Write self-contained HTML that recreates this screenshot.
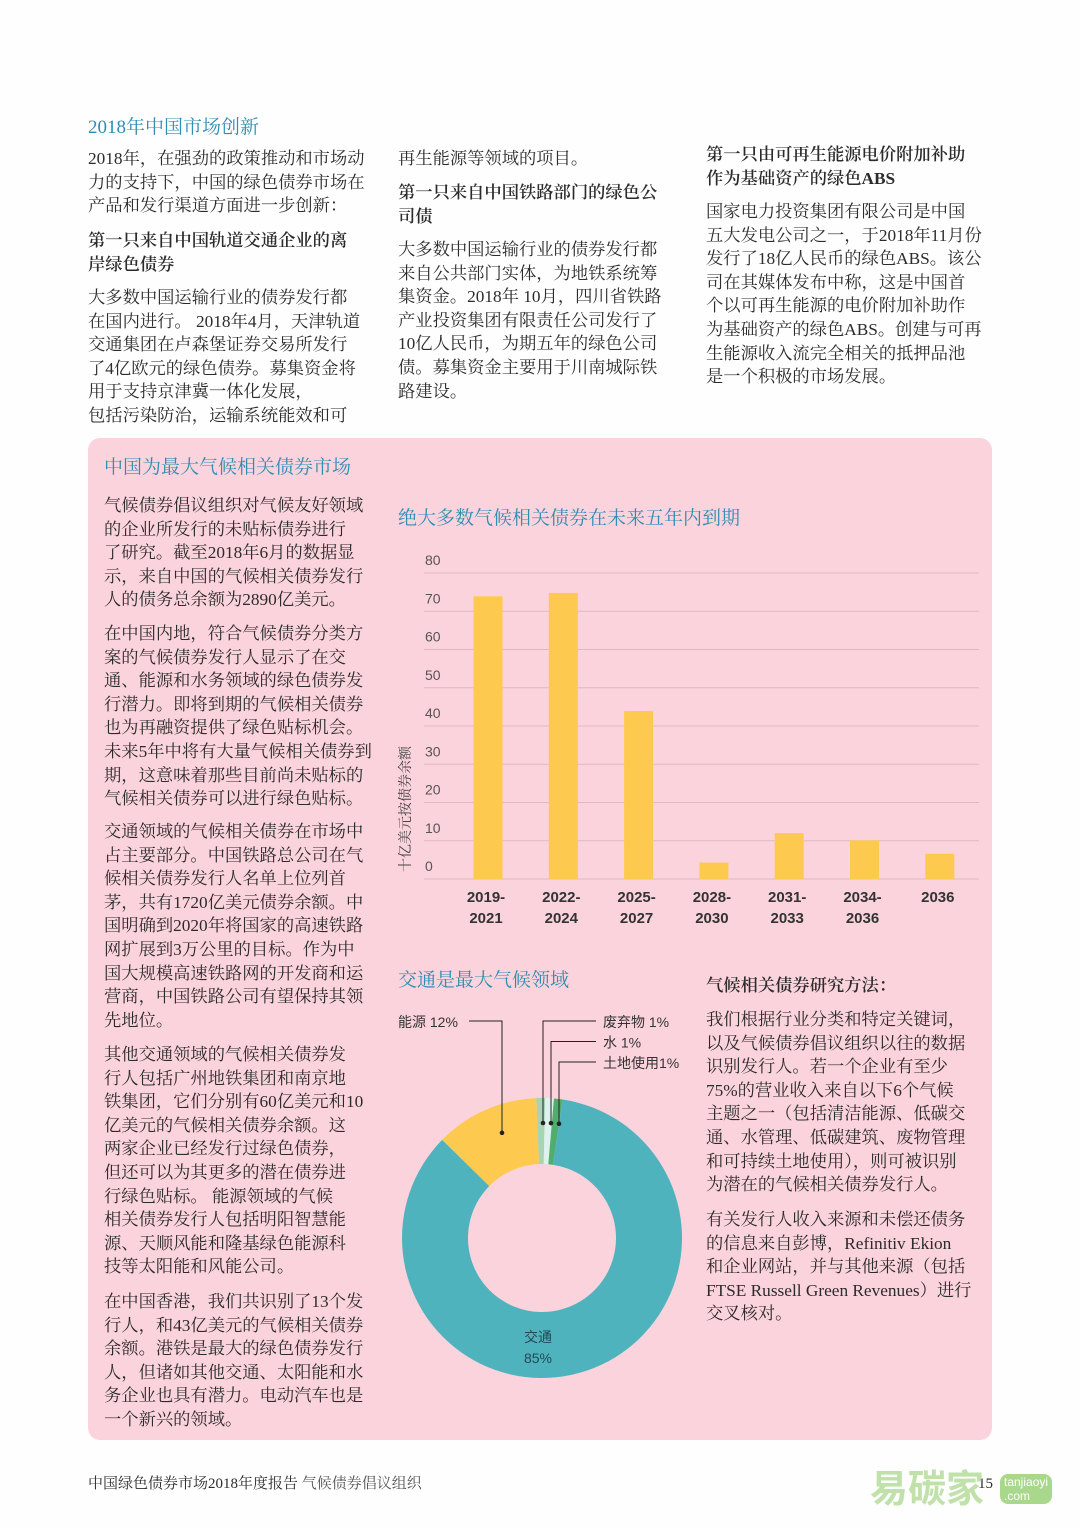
<!DOCTYPE html>
<html><head><meta charset="utf-8">
<style>
body{margin:0;background:#fff;}
#page{position:relative;width:1080px;height:1527px;background:#fefefe;overflow:hidden;font-family:"Liberation Serif","Noto Serif CJK SC",serif;color:#2b2b2b;}
.t{position:absolute;white-space:nowrap;font-size:17.3px;line-height:23.6px;}
.h{position:absolute;white-space:nowrap;font-size:19px;color:#2f8db3;font-family:"Liberation Serif","Noto Serif CJK SC",serif;}
.sh{font-weight:600;}
#box{position:absolute;left:88px;top:438px;width:904px;height:1002px;background:#fbd3dc;border-radius:12px;}
</style></head><body>
<div id="page">
<div class="h" style="left:88px;top:112px">2018年中国市场创新</div>
<div class="t" style="left:88px;top:147px">2018年，在强劲的政策推动和市场动<br>力的支持下，中国的绿色债券市场在<br>产品和发行渠道方面进一步创新：</div>
<div class="t sh" style="left:88px;top:229px">第一只来自中国轨道交通企业的离<br>岸绿色债券</div>
<div class="t" style="left:88px;top:286px">大多数中国运输行业的债券发行都<br>在国内进行。 2018年4月，天津轨道<br>交通集团在卢森堡证券交易所发行<br>了4亿欧元的绿色债券。募集资金将<br>用于支持京津冀一体化发展，<br>包括污染防治，运输系统能效和可</div>
<div class="t" style="left:398px;top:147px">再生能源等领域的项目。</div>
<div class="t sh" style="left:398px;top:181px">第一只来自中国铁路部门的绿色公<br>司债</div>
<div class="t" style="left:398px;top:238px">大多数中国运输行业的债券发行都<br>来自公共部门实体，为地铁系统筹<br>集资金。2018年 10月，四川省铁路<br>产业投资集团有限责任公司发行了<br>10亿人民币，为期五年的绿色公司<br>债。募集资金主要用于川南城际铁<br>路建设。</div>
<div class="t sh" style="left:706px;top:143px">第一只由可再生能源电价附加补助<br>作为基础资产的绿色ABS</div>
<div class="t" style="left:706px;top:200px">国家电力投资集团有限公司是中国<br>五大发电公司之一，于2018年11月份<br>发行了18亿人民币的绿色ABS。该公<br>司在其媒体发布中称，这是中国首<br>个以可再生能源的电价附加补助作<br>为基础资产的绿色ABS。创建与可再<br>生能源收入流完全相关的抵押品池<br>是一个积极的市场发展。</div>

<div id="box"></div>
<div class="h" style="left:104px;top:452px">中国为最大气候相关债券市场</div>
<div class="t" style="left:104px;top:494px">气候债券倡议组织对气候友好领域<br>的企业所发行的未贴标债券进行<br>了研究。截至2018年6月的数据显<br>示，来自中国的气候相关债券发行<br>人的债务总余额为2890亿美元。</div>
<div class="t" style="left:104px;top:622px">在中国内地，符合气候债券分类方<br>案的气候债券发行人显示了在交<br>通、能源和水务领域的绿色债券发<br>行潜力。即将到期的气候相关债券<br>也为再融资提供了绿色贴标机会。<br>未来5年中将有大量气候相关债券到<br>期，这意味着那些目前尚未贴标的<br>气候相关债券可以进行绿色贴标。</div>
<div class="t" style="left:104px;top:820px">交通领域的气候相关债券在市场中<br>占主要部分。中国铁路总公司在气<br>候相关债券发行人名单上位列首<br>茅，共有1720亿美元债券余额。中<br>国明确到2020年将国家的高速铁路<br>网扩展到3万公里的目标。作为中<br>国大规模高速铁路网的开发商和运<br>营商，中国铁路公司有望保持其领<br>先地位。</div>
<div class="t" style="left:104px;top:1043px">其他交通领域的气候相关债券发<br>行人包括广州地铁集团和南京地<br>铁集团，它们分别有60亿美元和10<br>亿美元的气候相关债券余额。这<br>两家企业已经发行过绿色债券，<br>但还可以为其更多的潜在债券进<br>行绿色贴标。 能源领域的气候<br>相关债券发行人包括明阳智慧能<br>源、天顺风能和隆基绿色能源科<br>技等太阳能和风能公司。</div>
<div class="t" style="left:104px;top:1290px">在中国香港，我们共识别了13个发<br>行人，和43亿美元的气候相关债券<br>余额。港铁是最大的绿色债券发行<br>人，但诸如其他交通、太阳能和水<br>务企业也具有潜力。电动汽车也是<br>一个新兴的领域。</div>

<div class="h" style="left:398px;top:503px">绝大多数气候相关债券在未来五年内到期</div>
<svg id="bar" style="position:absolute;left:0;top:0" width="1080" height="1527"></svg>

<div class="h" style="left:398px;top:965px">交通是最大气候领域</div>
<svg id="donut" style="position:absolute;left:0;top:0" width="1080" height="1527"></svg>

<div class="t sh" style="left:706px;top:974px">气候相关债券研究方法：</div>
<div class="t" style="left:706px;top:1008px">我们根据行业分类和特定关键词，<br>以及气候债券倡议组织以往的数据<br>识别发行人。若一个企业有至少<br>75%的营业收入来自以下6个气候<br>主题之一（包括清洁能源、低碳交<br>通、水管理、低碳建筑、废物管理<br>和可持续土地使用），则可被识别<br>为潜在的气候相关债券发行人。</div>
<div class="t" style="left:706px;top:1208px">有关发行人收入来源和未偿还债务<br>的信息来自彭博，Refinitiv Ekion<br>和企业网站，并与其他来源（包括<br>FTSE Russell Green Revenues）进行<br>交叉核对。</div>

<div class="t" style="left:88px;top:1473px;font-size:15px">中国绿色债券市场2018年度报告 <span style="color:#555">气候债券倡议组织</span></div>
<div class="t" style="left:978px;top:1473px;font-size:15px">15</div>
<div style="position:absolute;left:870px;top:1458px;font-family:'Liberation Sans','Noto Sans CJK SC',sans-serif;font-size:38px;color:#b7dd9c;font-weight:bold;opacity:0.85">易碳家</div>
<div style="position:absolute;left:1000px;top:1474px;font-family:'Liberation Sans',sans-serif;font-size:12px;color:#fff;background:#a9d88c;border-radius:8px;padding:1px 4px">tanjiaoyi<br>.com</div>
</div>
<script>
const NS='http://www.w3.org/2000/svg';
const categories=['2019-|2021','2022-|2024','2025-|2027','2028-|2030','2031-|2033','2034-|2036','2036'];
const values=[73.9,74.8,43.9,4.3,12,10.1,6.6];
const yTicks=[0,10,20,30,40,50,60,70,80];
const sectors=['能源 12%','废弃物 1%','水 1%','土地使用1%','交通 85%'];
const shares=[12,1,1,1,85];
const sectorColors=['#fdca4f','#a6d4b4','#dcf2ec','#4fae6e','#4fb3be'];

function mk(p,tag,a){const e=document.createElementNS(NS,tag);for(const k in a)e.setAttribute(k,a[k]);p.appendChild(e);return e;}
const bar=document.getElementById('bar');
const y0=879,y80=573,xL=424,xR=979;
const ys=v=>y0-(v/80)*(y0-y80);
const xs=i=>488+i*75.3;
yTicks.forEach(t=>{
  const l=mk(bar,'line',{x1:xL,x2:xR,y1:ys(t),y2:ys(t),stroke:'#dfb9c2','stroke-width':1});
  
  
  const tx=mk(bar,'text',{x:425,y:ys(t)-8,'font-size':14,fill:'#555','font-family':'Liberation Sans, sans-serif'});
  tx.textContent=t;
  
  
});
values.forEach((v,i)=>{
  const r=mk(bar,'rect',{x:xs(i)-14.5,y:ys(v),width:29,height:y0-ys(v),fill:'#fdca4f'});
  
  
  const parts=categories[i].split('|');
  parts.forEach((p,j)=>{
    const tx=mk(bar,'text',{x:xs(i)-2,y:902+j*21,'text-anchor':'middle','font-size':15,'font-weight':'bold',fill:'#333','font-family':'Liberation Sans, sans-serif'});
    tx.textContent=p;
    
    
  });
});
const yt=mk(bar,'text',{x:0,y:0,'font-size':14,fill:'#444','font-family':'Liberation Serif, Noto Serif CJK SC, serif',transform:'translate(410,872) rotate(-90)'});
yt.textContent='十亿美元按债券余额';



const dn=document.getElementById('donut');
const cx=542,cy=1238,R=140,r0=74;
const total=shares.reduce((a,b)=>a+b,0);
let ang=-45.5;
const pt=(a,rr)=>[cx+rr*Math.sin(a*Math.PI/180),cy-rr*Math.cos(a*Math.PI/180)];
const mids=[];
shares.forEach((s,i)=>{
  const span=s/total*360,a1=ang,a2=ang+span,lg=span>180?1:0;
  const p1=pt(a1,R),p2=pt(a2,R),p3=pt(a2,r0),p4=pt(a1,r0);
  const p=mk(dn,'path',{d:`M${p1}L${p1}A${R},${R} 0 ${lg} 1 ${p2}L${p3}A${r0},${r0} 0 ${lg} 0 ${p4}Z`,fill:sectorColors[i]});
  
  
  mids.push((a1+a2)/2);ang=a2;
});
// energy label
const e=pt(mids[0],115);
const el=mk(dn,'polyline',{points:`469,1021 502,1021 502,${e[1]}`,fill:'none',stroke:'#222','stroke-width':1});


const ed=mk(dn,'circle',{cx:502,cy:e[1],r:2.3,fill:'#222'});


const lt=mk(dn,'text',{x:398,y:1027,'font-size':14,fill:'#333','font-family':'Liberation Sans, Noto Sans CJK SC, sans-serif'});
lt.textContent=sectors[0];


[1,2,3].forEach((i,k)=>{
  const yl=1021+k*20.5,xd=543+k*8;
  const py=pt(mids[i],115)[1];
  const l=mk(dn,'polyline',{points:`596,${yl} ${xd},${yl} ${xd},${py}`,fill:'none',stroke:'#222','stroke-width':1});
  
  
  const d=mk(dn,'circle',{cx:xd,cy:py,r:2.3,fill:'#222'});
  
  
  const t=mk(dn,'text',{x:603,y:yl+6,'font-size':14,fill:'#333','font-family':'Liberation Sans, Noto Sans CJK SC, sans-serif'});
  t.textContent=sectors[i];
  
  
});
const tp=sectors[4].split(' ');
tp.forEach((s,j)=>{
  const t=mk(dn,'text',{x:538,y:1342+j*21,'text-anchor':'middle','font-size':14,fill:'#214a55','font-family':'Liberation Sans, Noto Sans CJK SC, sans-serif'});
  t.textContent=s;
  
  
});
</script>
</body></html>
